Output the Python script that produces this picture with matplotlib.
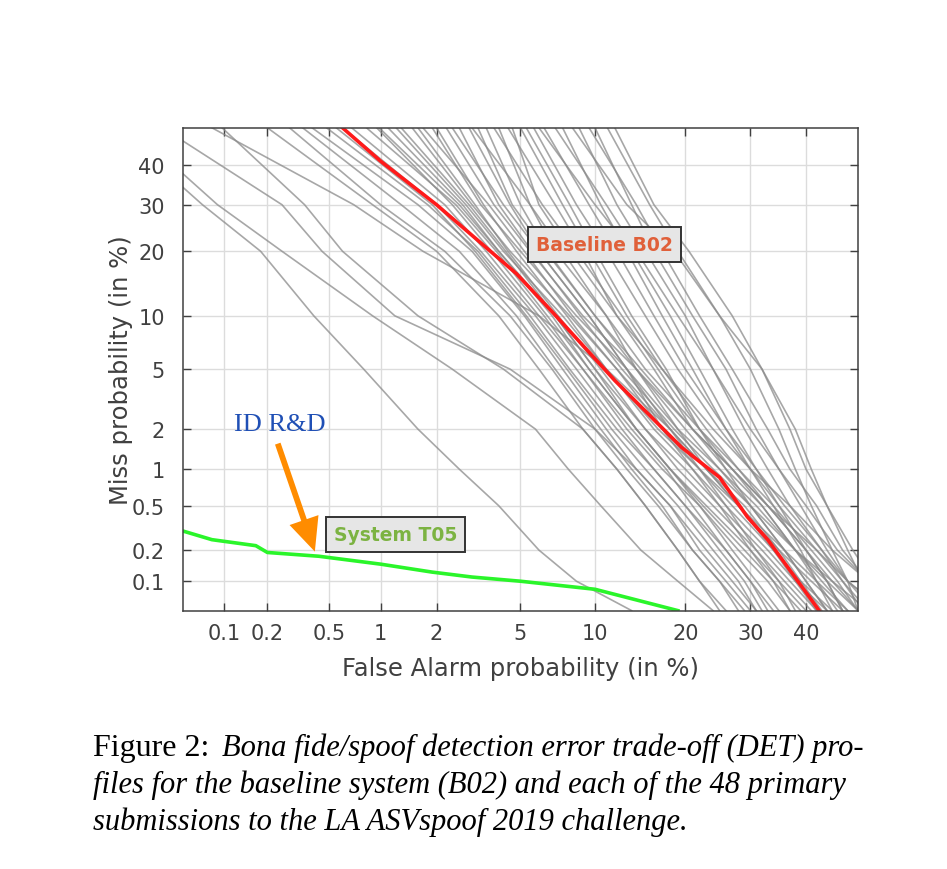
#!/usr/bin/env python3
from statistics import NormalDist

import matplotlib

matplotlib.use("Agg")
import matplotlib.pyplot as plt
import numpy as np
from matplotlib.ticker import FixedLocator, FixedFormatter

miss_grid = [50, 30, 20, 10, 5, 2, 1, 0.5, 0.2, 0.1, 0.05]

# false alarm (%) of each submission at the miss levels above (values outside 0.05-50 run off the axes)
left_fa = [
    [0.015, 0.07, 0.18, 0.4, 0.8, 1.6, 2.6, 4.0, 6.0, 8.5, 13.5],
    [0.02, 0.09, 0.25, 0.9, 2.4, 5.8, 7.9, 10.5, 14.5, 19, 24],
    [0.035, 0.25, 0.45, 1.2, 4.5, 10, 14, 18, 22, 26, 30],
    [0.082, 0.7, 1.7, 6.0, 11, 18, 23, 29, 35, 39, 43],
    [0.097, 0.35, 0.6, 1.6, 4.2, 9.0, 12, 15, 19, 22, 26],
]
bundle_fa = [
    [0.20, 0.9, 2.0, 4.0, 6.0, 9.0, 12, 15, 19, 22, 25],
    [0.34, 1.3, 2.6, 4.8, 7.0, 10.5, 13.5, 17, 21, 25, 28],
    [0.39, 1.6, 3.0, 5.2, 7.5, 11, 14, 18, 23, 27, 31],
    [0.48, 1.8, 3.2, 5.5, 8.0, 12, 16, 20, 26, 30, 34],
    [0.68, 2.2, 3.5, 6.0, 9.0, 13, 17, 22, 28, 33, 37],
    [0.83, 2.5, 3.9, 6.5, 9.5, 14, 18, 23, 30, 35, 40],
    [0.98, 2.6, 4.0, 7.0, 10, 15, 19, 24, 31, 36, 41],
    [1.22, 2.8, 4.2, 7.5, 11, 16, 21, 26, 33, 38, 44],
    [1.49, 3.0, 4.5, 8.0, 12, 18, 23, 28, 35, 41, 47],
    [1.90, 3.3, 5.0, 8.5, 13, 19, 25, 31, 38, 44, 50],
    [2.24, 3.8, 5.5, 9.0, 14, 21, 27, 33, 42, 48, 55],
    [2.90, 4.5, 6.0, 9.5, 13, 18, 22, 26, 31, 35, 38],
    [3.50, 5.0, 6.5, 10, 14, 20, 25, 30, 36, 40, 44],
    [4.00, 5.5, 7.0, 11, 15, 22, 28, 34, 41, 46, 50],
    [4.60, 6.0, 8.0, 12, 17, 24, 30, 37, 45, 52, 60],
    [0.60, 2.0, 3.3, 5.8, 8.5, 12.5, 16, 20, 25, 29, 32],
    [1.10, 2.7, 4.0, 6.8, 9.5, 14, 18, 22, 27, 31, 35],
    [1.60, 3.1, 4.4, 7.2, 10.5, 15, 20, 25, 32, 37, 42],
    [2.00, 3.4, 4.8, 7.8, 11, 16.5, 22, 28, 36, 42, 48],
    [2.60, 4.0, 5.6, 8.8, 12.5, 18.5, 24, 30, 38, 45, 52],
    [3.20, 4.6, 6.4, 10, 14.5, 21, 27, 33, 40, 44, 47],
    [0.95, 2.4, 3.7, 6.3, 9.0, 13.5, 17.5, 21, 26, 30, 33],
    [1.30, 2.9, 4.3, 7.0, 10, 14, 18, 22.5, 29, 34, 39],
    [3.00, 5.5, 7.5, 11, 14, 19, 23, 28, 34, 38, 42],
    [2.40, 4.2, 6.0, 9.5, 13, 17, 21, 25, 30, 34, 37],
    [1.70, 3.6, 5.2, 8.2, 12, 17, 22, 27, 34, 39, 45],
    [3.80, 6.2, 8.5, 12.5, 16.5, 22, 27, 32, 38, 43, 48],
    [0.28, 1.0, 2.2, 4.5, 6.8, 10, 13, 16.5, 21, 25, 29],
    [0.55, 1.9, 3.1, 5.3, 7.8, 11.5, 15, 19, 24, 28, 31],
]
right_fa = [
    [5.0, 7.5, 9.5, 13, 17, 23, 28, 33, 40, 45, 50],
    [5.7, 8.5, 11, 15, 19, 25, 30, 35, 42, 47, 52],
    [6.3, 9.5, 12, 16, 20, 26, 31, 36, 43, 48, 55],
    [8.2, 13, 18.5, 25, 30, 35, 38, 41, 45, 48, 50],
    [8.7, 12, 15, 20, 24, 29, 33, 37, 43, 47, 51],
    [11.1, 15.5, 19, 25, 32, 38, 41, 44, 48, 51, 55],
    [11.8, 16, 20.5, 27, 32, 37, 40, 44, 49, 53, 58],
    [5.3, 8, 10, 13.5, 17.5, 22, 26, 30, 36, 40, 44],
    [6.0, 10, 13.5, 18, 22, 27, 31, 35, 40, 44, 47],
    [7.0, 11, 14, 19, 24, 30, 35, 40, 46, 52, 58],
    [9.5, 14, 17, 22, 27, 33, 37, 42, 47, 52, 60],
    [4.4, 7.0, 9.0, 12, 16, 21, 26, 32, 38, 42, 46],
    [7.5, 10.5, 13, 17, 21, 26, 30, 34, 39, 42, 45],
    [10.0, 13.5, 16, 21, 26, 31, 35, 39, 44, 48, 53],
]

# baseline B02
b02_fa = [0.6, 1.0, 2.0, 4.8, 6.9, 11.8, 15.5, 19.5, 25, 29.5, 33, 35.5, 42.5]
b02_miss = [50, 41, 30, 16, 10.3, 4.25, 2.5, 1.47, 0.86, 0.4, 0.25, 0.165, 0.05]

# system T05 (ID R&D)
t05_fa = [0.05, 0.082, 0.167, 0.2, 0.43, 1.0, 1.9, 3.0, 5.0, 10, 16, 19]
t05_miss = [0.3, 0.25, 0.22, 0.19, 0.175, 0.147, 0.123, 0.11, 0.1, 0.083, 0.058, 0.05]

x_ticks = [0.1, 0.2, 0.5, 1, 2, 5, 10, 20, 30, 40]
y_ticks = [0.1, 0.2, 0.5, 1, 2, 5, 10, 20, 30, 40]

_nd = NormalDist()
_ppf = np.vectorize(_nd.inv_cdf, otypes=[float])
_cdf = np.vectorize(_nd.cdf, otypes=[float])


def probit_fwd(p):
    p = np.clip(np.asarray(p, dtype=float) / 100.0, 1e-9, 1 - 1e-9)
    return _ppf(p)


def probit_inv(z):
    return _cdf(np.asarray(z, dtype=float)) * 100.0


def tick_label(v):
    return f"{v:g}"


fig = plt.figure(figsize=(9.47, 8.70), dpi=100)
ax = fig.add_axes([0.193, 0.297, 0.713, 0.555])

for fa in left_fa + bundle_fa + right_fa:
    ax.plot(fa, miss_grid, color="#8a8a8a", alpha=0.75, linewidth=1.2)

ax.plot(b02_fa, b02_miss, color="#ff1a1a", linewidth=2.6)
ax.plot(t05_fa, t05_miss, color="#2af52a", linewidth=2.6)

ax.set_xscale("function", functions=(probit_fwd, probit_inv))
ax.set_yscale("function", functions=(probit_fwd, probit_inv))
ax.set_xlim(0.05, 50)
ax.set_ylim(0.05, 50)

ax.xaxis.set_major_locator(FixedLocator(x_ticks))
ax.xaxis.set_major_formatter(FixedFormatter([tick_label(v) for v in x_ticks]))
ax.yaxis.set_major_locator(FixedLocator(y_ticks))
ax.yaxis.set_major_formatter(FixedFormatter([tick_label(v) for v in y_ticks]))
ax.xaxis.set_minor_locator(FixedLocator([]))
ax.yaxis.set_minor_locator(FixedLocator([]))

ax.grid(True, color="#dcdcdc", linewidth=1.0)
ax.set_axisbelow(True)
ax.tick_params(direction="in", length=6, width=1, color="#404040", labelcolor="#404040",
               labelsize=15, top=True, right=True)
ax.tick_params(axis="x", pad=9)
ax.tick_params(axis="y", pad=13)
for sp in ax.spines.values():
    sp.set_color("#404040")
    sp.set_linewidth(1.1)

ax.set_xlabel("False Alarm probability (in %)", fontsize=17.5, color="#404040", labelpad=9)
ax.set_ylabel("Miss probability (in %)", fontsize=17.5, color="#404040", labelpad=-1)

box = dict(boxstyle="square,pad=0.42", facecolor="#e6e6e6", edgecolor="#333333", linewidth=1.4)
ax.text(0.6244, 0.7578, "Baseline B02", transform=ax.transAxes, ha="center", va="center",
        fontsize=13.5, fontweight="bold", color="#e0603a", bbox=box)
ax.text(0.3148, 0.1584, "System T05", transform=ax.transAxes, ha="center", va="center",
        fontsize=13.5, fontweight="bold", color="#7cb342", bbox=box)

ax.text(0.1437, 0.3872, "ID R&D", transform=ax.transAxes, ha="center", va="center",
        fontsize=19, color="#1f4fb5", family="Liberation Serif")
ax.annotate("", xy=(0.1956, 0.1222), xytext=(0.1407, 0.3458),
            xycoords="axes fraction", textcoords="axes fraction",
            arrowprops=dict(facecolor="#ff8c00", edgecolor="none", width=4.2,
                            headwidth=22, headlength=24, shrink=0))

# caption
serif = "Liberation Serif"
fig.text(93 / 947, 1 - 756 / 870, "Figure 2:", fontsize=23, family=serif, va="baseline")
fig.text(222 / 947, 1 - 756 / 870, "Bona fide/spoof detection error trade-off (DET) pro-",
         fontsize=22, family=serif, style="italic", va="baseline")
fig.text(93 / 947, 1 - 793 / 870, "files for the baseline system (B02) and each of the 48 primary",
         fontsize=22, family=serif, style="italic", va="baseline")
fig.text(93 / 947, 1 - 830 / 870, "submissions to the LA ASVspoof 2019 challenge.",
         fontsize=22, family=serif, style="italic", va="baseline")

fig.savefig("out.png", dpi=100)
